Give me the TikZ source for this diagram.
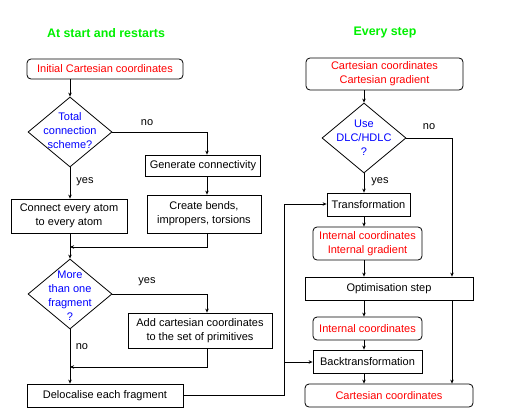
\documentclass[tikz,border=0pt]{standalone}
\usepackage{fontspec}
\setmainfont{Liberation Sans}
\usetikzlibrary{shapes.geometric,arrows.meta}
\definecolor{titlegreen}{RGB}{0,240,0}
\begin{document}
\begin{tikzpicture}[x=1pt,y=-1pt,
  every node/.style={font=\fontsize{11}{14}\selectfont, inner sep=0pt, align=center},
  box/.style={draw, line width=0.8pt, rectangle},
  rbox/.style={box, rounded corners=4pt, text=red},
  dia/.style={draw, line width=0.8pt, diamond, minimum width=84pt, minimum height=70pt},
  qtext/.style={text=blue},
  ln/.style={line width=0.8pt},
  arr/.style={ln, -{Stealth[length=4pt,width=3.5pt]}},
  ttl/.style={font=\fontsize{12.4}{14}\selectfont\bfseries, text=titlegreen}
]
\useasboundingbox (0,0) rectangle (506,418);

% titles
\node[ttl] (t1) at (106,33) {At start and restarts};
\node[ttl] (t2) at (385,33) {Every step};

% left column
\node[rbox, minimum width=156pt, minimum height=20pt] (init) at (105,69) {Initial Cartesian coordinates};
\node[dia] (d1) at (70,132) {};
\node[qtext] (d1t) at (70,131) {Total\\connection\\scheme?};
\node[box, minimum width=115pt, minimum height=21pt] (gen) at (203,165.5) {Generate connectivity};
\node[box, minimum width=114pt, minimum height=38pt] (bends) at (204,214) {Create bends,\\impropers, torsions};
\node[box, minimum width=116pt, minimum height=34pt] (conn) at (69,216) {Connect every atom\\to every atom};
\node[dia] (d2) at (70,294) {};
\node[qtext] (d2t) at (70,296) {More\\than one\\fragment\\?};
\node[box, minimum width=144pt, minimum height=35pt] (add) at (200,330.5) {Add cartesian coordinates\\to the set of primitives};
\node[box, minimum width=156pt, minimum height=23pt] (deloc) at (105,395.5) {Delocalise each fragment};

\coordinate (m1) at (70,247);
\coordinate (m2) at (70,367);

% right column
\node[rbox, minimum width=157pt, minimum height=32pt] (cart1) at (384.5,74) {Cartesian coordinates\\Cartesian gradient};
\node[dia] (d3) at (364,138) {};
\node[qtext] (d3t) at (364,138) {Use\\DLC/HDLC\\?};
\node[box, minimum width=83pt, minimum height=23pt] (trans) at (368.5,204.5) {Transformation};
\node[rbox, minimum width=109pt, minimum height=33pt] (int1) at (367.5,243.5) {Internal coordinates\\Internal gradient};
\node[box, minimum width=168pt, minimum height=23pt] (opt) at (389,288.5) {Optimisation step};
\node[rbox, minimum width=109pt, minimum height=23pt] (int2) at (367.5,328.5) {Internal coordinates};
\node[box, minimum width=109pt, minimum height=23pt] (back) at (367.5,361.5) {Backtransformation};
\node[rbox, minimum width=168pt, minimum height=23pt] (cart2) at (389,395.5) {Cartesian coordinates};

% labels
\node (l1) at (147,123) {no};
\node (l2) at (85,182) {yes};
\node (l3) at (147,282) {yes};
\node (l4) at (82,347) {no};
\node (l5) at (429,127) {no};
\node (l6) at (380,182) {yes};

% left connectors
\draw[arr] (init.south -| d1.north) -- (d1.north);
\draw[arr] (d1.south) -- (d1.south |- conn.north);
\draw[arr] (d1.east) -| (gen.north -| 207,0);
\draw[arr] (gen.south -| 207,0) -- (bends.north -| 207,0);
\draw[ln] (d1.south |- conn.south) -- (m1);
\draw[arr] (bends.south -| 207,0) |- (m1);
\draw[arr] (m1) -- (d2.north);
\draw[arr] (d2.east) -| (add.north -| 207,0);
\draw[ln] (d2.south) -- (m2);
\draw[arr] (add.south -| 207,0) |- (m2);
\draw[arr] (m2) -- (m2 |- deloc.north);

% cross connectors
\draw[arr] (deloc.east) -| (284,204) -- (trans.west |- 0,204);
\draw[arr] (284,362) -- (back.west |- 0,362);

% right connectors
\draw[arr] (cart1.south -| d3.north) -- (d3.north);
\draw[arr] (d3.south) -- (d3.south |- trans.north);
\draw[arr] (trans.south -| d3.south) -- (d3.south |- int1.north);
\draw[arr] (int1.south -| d3.south) -- (d3.south |- opt.north);
\draw[arr] (d3.east) -| (opt.north -| 452,0);
\draw[arr] (opt.south -| d3.south) -- (d3.south |- int2.north);
\draw[arr] (int2.south -| d3.south) -- (d3.south |- back.north);
\draw[arr] (back.south -| d3.south) -- (d3.south |- cart2.north);
\draw[arr] (opt.south -| 452,0) -- (cart2.north -| 452,0);
\end{tikzpicture}
\end{document}
